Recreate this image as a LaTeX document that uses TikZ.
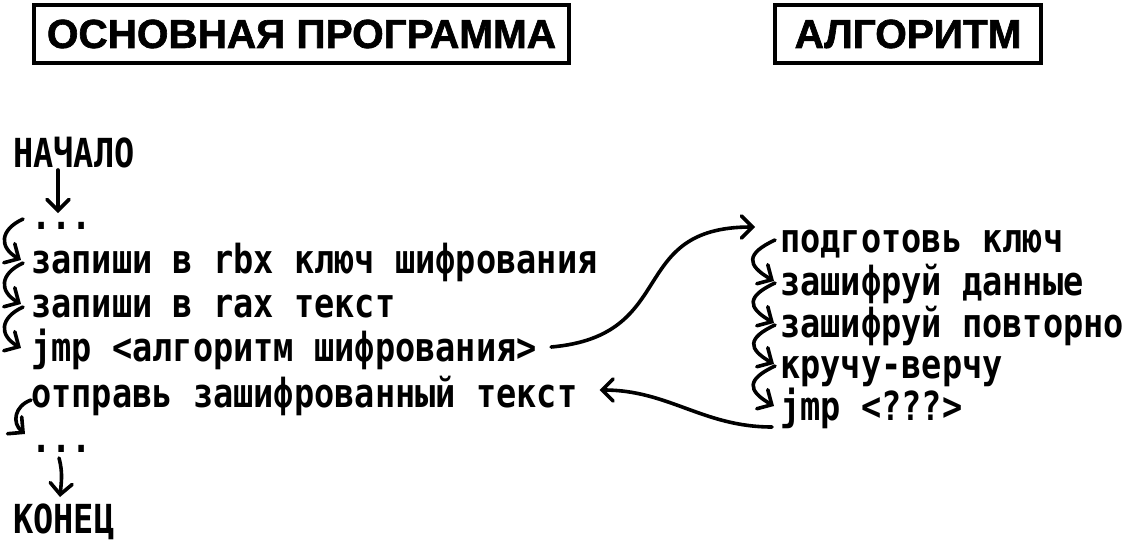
\documentclass[tikz,border=0pt]{standalone}
\usepackage{fontspec}
\setmainfont{Liberation Sans}
\newfontfamily\headfont{Liberation Sans}[BoldFeatures={FakeBold=1.6}]
\newfontfamily\codefont{DejaVu Sans Mono}[FakeStretch=0.84]
\usetikzlibrary{arrows.meta,positioning,calc}

\tikzset{
  title/.style={draw, line width=4pt, inner sep=0pt, minimum height=58pt,
    font=\headfont\bfseries\fontsize{40.5pt}{40.5pt}\selectfont},
  code/.style={anchor=base west, inner sep=0pt,
    font=\codefont\bfseries\fontsize{40pt}{40pt}\selectfont},
  flow/.style={line width=3.6pt, line cap=round,
    -{Straight Barb[length=11pt,width=22pt,line cap=round]}},
  hop/.style={flow, out=205, in=150, looseness=1.6}
}

\begin{document}
\begin{tikzpicture}[x=1pt,y=-1pt]
\useasboundingbox (0,0) rectangle (1124,541);

% Headings
\node[title, minimum width=535pt] (mainhead) at (301.5,34) {ОСНОВНАЯ ПРОГРАММА};
\node[title, minimum width=266pt] (alghead) at (908,34) {АЛГОРИТМ};

% Main program
\node[code] (start) at (13,167) {НАЧАЛО};
\node[code] (dotsa) at (31,229) {...};
\node[code] (keyline) at (31,273) {запиши в rbx ключ шифрования};
\node[code] (textline) at (31,317) {запиши в rax текст};
\node[code] (jmpline) at (31,361) {jmp <алгоритм шифрования>};
\node[code] (sendline) at (31,407) {отправь зашифрованный текст};
\node[code] (dotsb) at (31,452) {...};
\node[code] (finish) at (13,533) {КОНЕЦ};

% Algorithm
\node[code] (prep) at (780,252) {подготовь ключ};
\node[code] (enca) at (780,295) {зашифруй данные};
\node[code] (encb) at (780,337) {зашифруй повторно};
\node[code] (twist) at (780,378) {кручу-верчу};
\node[code] (back) at (780,420) {jmp <???>};

% Steps of main program
\draw[flow] ([xshift=45pt,yshift=-3pt]start.base west) -- ([xshift=27pt,yshift=16pt]dotsa.base west);
\foreach \a/\b in {dotsa/keyline, keyline/textline, textline/jmpline}
  \draw[hop] ([xshift=-8pt,yshift=10pt]\a.base west) to ([xshift=-10pt,yshift=13pt]\b.base west);
\draw[hop, out=200, in=140, looseness=1.3] ([xshift=0pt,yshift=7pt]sendline.base west) to ([xshift=-6pt,yshift=18pt]dotsb.base west);
\draw[flow] ([xshift=28pt,yshift=-6pt]dotsb.base west) to[out=-75,in=85] ([xshift=47pt,yshift=36pt]finish.base west);

% Steps of algorithm
\foreach \a/\b in {prep/enca, enca/encb, encb/twist, twist/back}
  \draw[hop, looseness=2] ([xshift=-5pt,yshift=12pt]\a.base west) to ([xshift=-6pt,yshift=14pt]\b.base west);

% Jump there and back
\draw[flow] ([xshift=14pt,yshift=14pt]jmpline.base east) to[out=5,in=180,looseness=1.4] ([xshift=-25pt,yshift=25pt]prep.base west);
\draw[flow] ([xshift=-8pt,yshift=-7pt]back.base west) to[out=180,in=0] ([xshift=22pt,yshift=17pt]sendline.base east);

\end{tikzpicture}
\end{document}
